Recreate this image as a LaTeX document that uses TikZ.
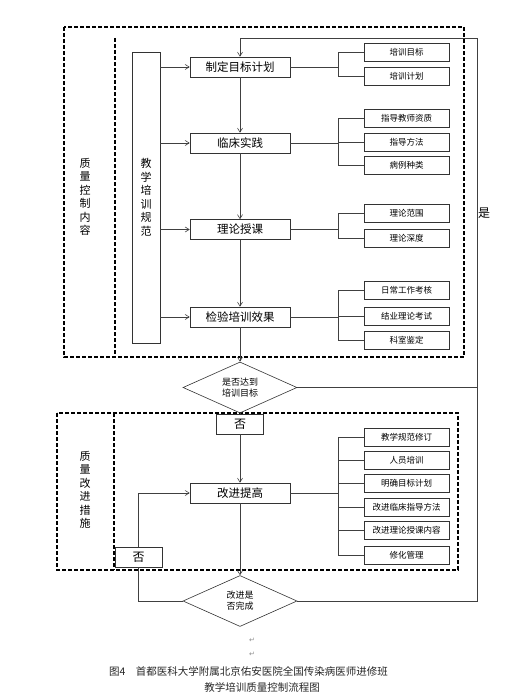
\documentclass[tikz,border=0pt]{standalone}
\usepackage{fontspec}
\setmainfont{Noto Sans CJK SC}
\newfontfamily\symfont{DejaVu Sans}
\usetikzlibrary{arrows.meta, positioning, shapes.geometric}

\begin{document}
\begin{tikzpicture}[
x=1pt, y=-1pt,
every node/.style={align=center, inner sep=0pt},
stagebox/.style={rectangle, draw=black!80, semithick, minimum width=100pt, minimum height=20pt, font=\fontsize{11.5}{13}\selectfont},
itembox/.style={rectangle, draw=black!80, thick, minimum width=85pt, minimum height=18pt, font=\fontsize{8.5}{10}\selectfont},
decision/.style={diamond, draw=black!80, semithick, minimum width=114pt, minimum height=51pt, aspect=2.2, font=\fontsize{9}{11}\selectfont},
nobox/.style={rectangle, draw=black!80, semithick, minimum width=47pt, minimum height=20pt, font=\fontsize{12}{14}\selectfont},
zone/.style={draw=black, line width=1.3pt, dash pattern=on 4pt off 2pt},
vlabel/.style={font=\fontsize{11}{13.5}\selectfont},
arrow/.style={-{Straight Barb[length=4pt, width=5pt]}, black!75, semithick},
link/.style={black!75, semithick}
]
\useasboundingbox (0,0) rectangle (520,700);

% dashed zones
\draw[zone] (64,27) rectangle (464,357);
\draw[zone] (115,38) -- (115,357);
\draw[zone] (57,413) rectangle (458,570);
\draw[zone] (114,413) -- (114,570);

\node[vlabel] (ctrl) at (85,197) {质\\量\\控\\制\\内\\容};
\node[vlabel] (impr) at (85,490) {质\\量\\改\\进\\措\\施};
\node[vlabel, draw=black!80, semithick, minimum width=28pt, minimum height=291pt] (norm) at (146,197.5) {教\\学\\培\\训\\规\\范};

% main flow
\node[stagebox] (plan) at (240,67) {制定目标计划};
\node[stagebox] (clinic) at (240,143) {临床实践};
\node[stagebox] (lecture) at (240,229.5) {理论授课};
\node[stagebox] (exam) at (240,317) {检验培训效果};
\node[decision] (reach) at (240,387.5) {是否达到\\培训目标};
\node[nobox] (no1) at (240,424) {否};
\node[stagebox] (improve) at (240,493) {改进提高};
\node[decision] (done) at (240,601) {改进是\\否完成};
\node[nobox] (no2) at (138.5,557) {否};
\node[font=\fontsize{12}{14}\selectfont] (yes) at (484,213) {是};

% items
\node[itembox] (goal) at (406.5,52) {培训目标};
\node[itembox] (sched) at (406.5,76) {培训计划};
\node[itembox] (tutor) at (406.5,118.5) {指导教师资质};
\node[itembox] (method) at (406.5,142) {指导方法};
\node[itembox] (cases) at (406.5,165) {病例种类};
\node[itembox] (scope) at (406.5,213) {理论范围};
\node[itembox] (depth) at (406.5,238) {理论深度};
\node[itembox] (daily) at (406.5,290) {日常工作考核};
\node[itembox] (final) at (406.5,316.5) {结业理论考试};
\node[itembox] (dept) at (406.5,340) {科室鉴定};
\node[itembox] (revise) at (406.5,437) {教学规范修订};
\node[itembox] (staff) at (406.5,460) {人员培训};
\node[itembox] (target) at (406.5,483) {明确目标计划};
\node[itembox] (guide) at (406.5,507) {改进临床指导方法};
\node[itembox] (content) at (406.5,530.5) {改进理论授课内容};
\node[itembox] (manage) at (406.5,555) {修化管理};

\coordinate (looptop) at (477,38);

\foreach \a/\b in {plan/clinic, clinic/lecture, lecture/exam, exam/reach, no1/improve, improve/done}
  \draw[arrow] (\a) -- (\b);
\foreach \s in {plan, clinic, lecture, exam}
  \draw[arrow] (norm.east |- \s) -- (\s);

\foreach \s in {goal, sched} \draw[link] (plan.east) -- ++(48,0) |- (\s.west);
\foreach \s in {tutor, method, cases} \draw[link] (clinic.east) -- ++(48,0) |- (\s.west);
\foreach \s in {scope, depth} \draw[link] (lecture.east) -- ++(48,0) |- (\s.west);
\foreach \s in {daily, final, dept} \draw[link] (exam.east) -- ++(48,0) |- (\s.west);
\foreach \s in {revise, staff, target, guide, content, manage} \draw[link] (improve.east) -- ++(48,0) |- (\s.west);

\draw[arrow] (done.east) -- (done.east -| looptop) -- (looptop) -| (plan.north);
\draw[link] (reach.east) -- (reach.east -| looptop);
\draw[link] (reach.south) -- (no1.north);
\draw[link] (done.west) -| (no2.south);
\draw[arrow] (no2.north) |- (improve.west);

% caption
\node[text=black!45, font=\symfont\fontsize{7}{8}\selectfont] (ret1) at (252,640) {↵};
\node[text=black!45, font=\symfont\fontsize{7}{8}\selectfont] (ret2) at (252,654) {↵};
\node[text=black!85, font=\fontsize{10.5}{12}\selectfont] (cap1) at (248.5,671) {图4\quad 首都医科大学附属北京佑安医院全国传染病医师进修班};
\node[text=black!85, font=\fontsize{10.5}{12}\selectfont] (cap2) at (262,687) {教学培训质量控制流程图};

\end{tikzpicture}
\end{document}
